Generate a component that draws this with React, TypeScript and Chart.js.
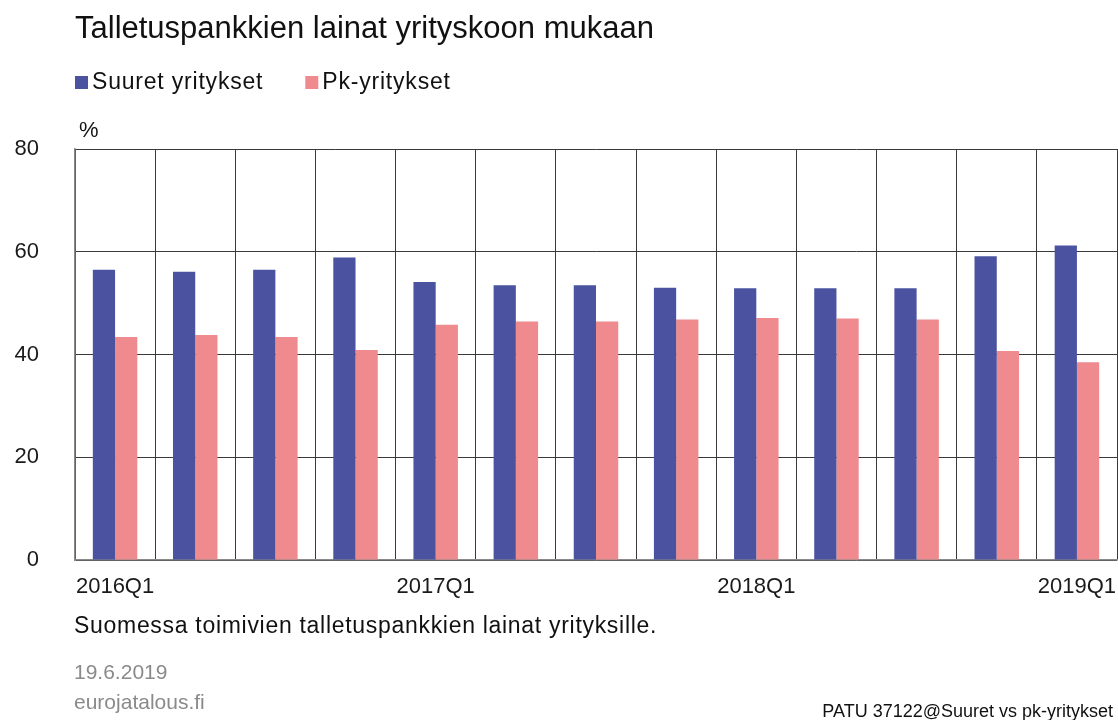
import React, { useEffect, useRef } from "react";
import { Chart, registerables } from "chart.js";

Chart.register(...registerables);

const categories = [
  "2016Q1", "2016Q2", "2016Q3", "2016Q4",
  "2017Q1", "2017Q2", "2017Q3", "2017Q4",
  "2018Q1", "2018Q2", "2018Q3", "2018Q4",
  "2019Q1",
];
const suuretValues = [56.5, 56.1, 56.5, 58.9, 54.1, 53.5, 53.5, 53.0, 52.9, 52.9, 52.9, 59.1, 61.2];
const pkValues = [43.4, 43.8, 43.4, 40.9, 45.8, 46.4, 46.4, 46.8, 47.1, 47.0, 46.8, 40.7, 38.5];
const seriesLabels = ["Suuret yritykset", "Pk-yritykset"];
const seriesColors = ["#4b53a1", "#ef8a8e"];
const yMin = 0;
const yMax = 80;
const yStep = 20;

const titleText = "Talletuspankkien lainat yrityskoon mukaan";
const unitText = "%";
const noteText = "Suomessa toimivien talletuspankkien lainat yrityksille.";
const dateText = "19.6.2019";
const siteText = "eurojatalous.fi";
const codeText = "PATU 37122@Suuret vs pk-yritykset";

const FONT = "'Liberation Sans', Arial, Helvetica, sans-serif";

const textPlugin = {
  id: "textPlugin",
  afterDraw(chart: any) {
    const ctx = chart.ctx as CanvasRenderingContext2D;
    const left = chart.chartArea.left;
    ctx.save();
    ctx.textAlign = "left";
    ctx.textBaseline = "alphabetic";

    // title
    ctx.fillStyle = "#111111";
    ctx.font = `31px ${FONT}`;
    ctx.fillText(titleText, left, 38);

    // legend
    ctx.font = `23px ${FONT}`;
    (ctx as any).letterSpacing = "0.8px";
    let x = left;
    chart.data.datasets.forEach((ds: any) => {
      ctx.fillStyle = ds.backgroundColor;
      ctx.fillRect(x, 76, 13, 13);
      ctx.fillStyle = "#111111";
      ctx.fillText(ds.label, x + 17, 89);
      const w = ctx.measureText(ds.label).width;
      x = x + 17 + w + 42;
    });
    (ctx as any).letterSpacing = "0px";

    // unit
    ctx.font = `22px ${FONT}`;
    ctx.fillStyle = "#111111";
    ctx.fillText(unitText, left + 4, 137);

    // note
    ctx.font = `23px ${FONT}`;
    (ctx as any).letterSpacing = "0.7px";
    ctx.fillText(noteText, left - 1, 633);
    (ctx as any).letterSpacing = "0px";

    // date + site
    ctx.font = `21px ${FONT}`;
    ctx.fillStyle = "#8a8a8a";
    ctx.fillText(dateText, left - 1, 679);
    ctx.fillText(siteText, left - 1, 709);

    // code
    ctx.font = `18px ${FONT}`;
    ctx.fillStyle = "#111111";
    ctx.textAlign = "right";
    ctx.fillText(codeText, 1113, 717);
    ctx.restore();
  },
};

export default function App() {
  const canvasRef = useRef<HTMLCanvasElement | null>(null);

  useEffect(() => {
    if (!canvasRef.current) return;
    const chart = new Chart(canvasRef.current, {
      type: "bar",
      data: {
        labels: categories,
        datasets: [
          {
            label: seriesLabels[0],
            data: suuretValues,
            backgroundColor: seriesColors[0],
            borderWidth: 0,
            categoryPercentage: 0.555,
            barPercentage: 1.0,
          },
          {
            label: seriesLabels[1],
            data: pkValues,
            backgroundColor: seriesColors[1],
            borderWidth: 0,
            categoryPercentage: 0.555,
            barPercentage: 1.0,
          },
        ],
      },
      options: {
        animation: false,
        responsive: false,
        maintainAspectRatio: false,
        layout: { padding: { top: 149, left: 0, right: 1, bottom: 120 } },
        plugins: {
          legend: { display: false },
          title: { display: false },
          tooltip: { enabled: false },
        },
        scales: {
          x: {
            offset: true,
            grid: {
              display: true,
              offset: true,
              color: "#3a3a3a",
              lineWidth: 1,
              drawTicks: false,
            },
            border: { display: true, color: "#8a8a8a", width: 1.5 },
            ticks: {
              autoSkip: false,
              maxRotation: 0,
              minRotation: 0,
              padding: 14,
              color: "#1a1a1a",
              font: { family: FONT, size: 22 },
              callback: (_v: any, i: number) => (i % 4 === 0 ? categories[i] : ""),
            },
            afterFit: (scale: any) => {
              scale.height = 40;
              scale.paddingLeft = 0;
              scale.paddingRight = 0;
            },
          },
          y: {
            min: yMin,
            max: yMax,
            grid: {
              color: "#3a3a3a",
              lineWidth: 1,
              drawTicks: false,
            },
            border: { display: true, color: "#8a8a8a", width: 1.5 },
            ticks: {
              stepSize: yStep,
              padding: 36,
              color: "#1a1a1a",
              font: { family: FONT, size: 22 },
            },
            afterFit: (scale: any) => {
              scale.width = 75;
              scale.paddingTop = 0;
              scale.paddingBottom = 0;
            },
          },
        },
      },
      plugins: [textPlugin],
    });
    return () => chart.destroy();
  }, []);

  return (
    <div style={{ position: "absolute", left: 0, top: 0, width: 1118, height: 720, background: "#ffffff" }}>
      <canvas ref={canvasRef} width={1118} height={720} style={{ width: 1118, height: 720 }} />
    </div>
  );
}
